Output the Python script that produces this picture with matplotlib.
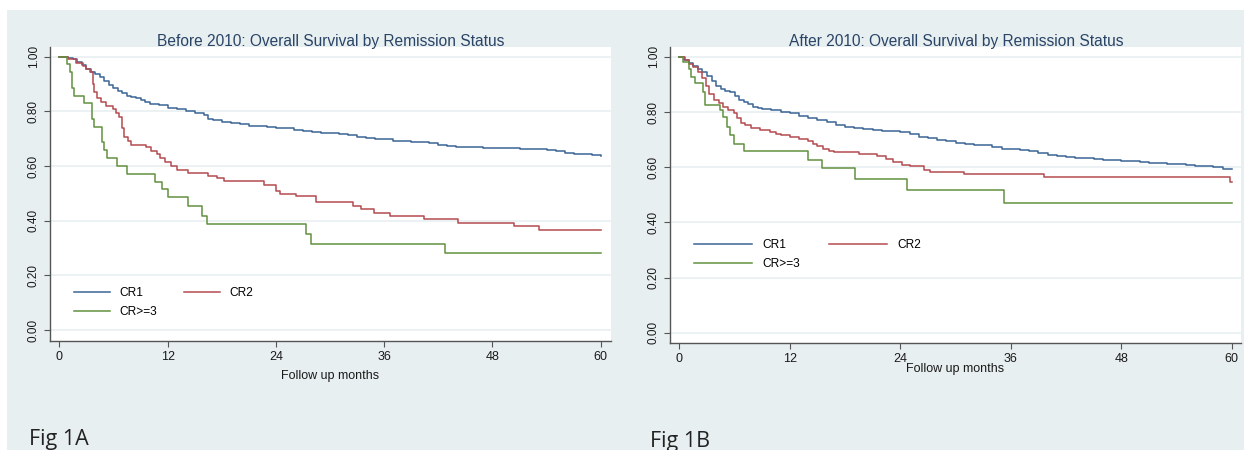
"""
Kaplan-Meier overall survival by remission status, before and after 2010.
"""
import matplotlib
matplotlib.use('Agg')
import matplotlib.pyplot as plt
from matplotlib.patches import Rectangle

plt.rcParams['font.family'] = ['Liberation Sans', 'DejaVu Sans']

# Before 2010 (Fig 1A): step points (month, survival)
before_cr1_t = [0, 0.5, 1, 1.5, 2, 2.5, 3, 3.5, 4, 4.5, 5, 5.5, 6, 6.5, 7, 7.5, 8, 8.5, 9,
                9.5, 10, 11, 12, 13, 14, 15, 16, 16.5, 17, 18, 19, 20, 21, 22, 23, 24, 25,
                26, 27, 28, 29, 30, 31, 32, 33, 34, 35, 36, 37, 38, 39, 40, 41, 42, 43, 44,
                45, 46, 47, 48, 49, 50, 51, 52, 53, 54, 55, 56, 57, 58, 59, 60]
before_cr1_s = [1.0, 1.0, 0.995, 0.99, 0.98, 0.97, 0.955, 0.945, 0.935, 0.925, 0.912, 0.897,
                0.885, 0.875, 0.865, 0.857, 0.852, 0.847, 0.84, 0.833, 0.828, 0.822, 0.813,
                0.808, 0.80, 0.793, 0.785, 0.772, 0.767, 0.762, 0.756, 0.752, 0.747, 0.745,
                0.742, 0.74, 0.737, 0.733, 0.728, 0.725, 0.722, 0.72, 0.717, 0.712, 0.707,
                0.703, 0.70, 0.697, 0.693, 0.69, 0.688, 0.686, 0.683, 0.675, 0.672, 0.671,
                0.670, 0.669, 0.667, 0.665, 0.665, 0.664, 0.663, 0.663, 0.662, 0.658, 0.653,
                0.648, 0.645, 0.642, 0.64, 0.638]

before_cr2_t = [0, 1.0, 1.8, 2.6, 3.0, 3.4, 3.7, 3.9, 4.2, 4.6, 5.2, 5.9, 6.3, 6.6, 6.9, 7.2,
                7.6, 8.0, 9.6, 10.2, 10.8, 11.2, 11.7, 12.4, 13.0, 14.3, 16.5, 17.5, 18.2,
                22.7, 24.0, 24.5, 26.2, 28.5, 32.6, 33.4, 34.9, 36.7, 40.4, 44.2, 50.4, 53.2,
                60]
before_cr2_s = [1.0, 0.99, 0.975, 0.965, 0.955, 0.945, 0.9, 0.87, 0.85, 0.835, 0.82, 0.81,
                0.795, 0.78, 0.74, 0.705, 0.69, 0.678, 0.668, 0.655, 0.645, 0.63, 0.615, 0.60,
                0.585, 0.575, 0.565, 0.555, 0.545, 0.53, 0.51, 0.497, 0.49, 0.47, 0.455, 0.443,
                0.428, 0.418, 0.405, 0.392, 0.379, 0.365, 0.365]

before_cr3_t = [0, 0.8, 1.2, 1.4, 1.6, 2.7, 3.6, 3.9, 4.7, 4.9, 5.3, 6.4, 7.5, 10.6, 11.4,
                12.1, 14.3, 15.8, 16.4, 27.3, 27.9, 42.7, 60]
before_cr3_s = [1.0, 0.972, 0.943, 0.886, 0.857, 0.829, 0.771, 0.743, 0.686, 0.657, 0.629,
                0.600, 0.571, 0.543, 0.514, 0.486, 0.452, 0.418, 0.386, 0.351, 0.316, 0.28,
                0.28]

# After 2010 (Fig 1B)
after_cr1_t = [0, 0.5, 1, 1.5, 2, 2.5, 3, 3.5, 4, 4.5, 5, 5.5, 6, 6.5, 7, 7.5, 8, 8.5, 9,
               10, 11, 12, 13, 14, 15, 16, 17, 18, 19, 20, 21, 22, 23, 24, 25, 26, 27, 28,
               29, 30, 31, 32, 33, 34, 35, 36, 37, 38, 39, 40, 41, 42, 43, 44, 45, 46, 47,
               48, 49, 50, 51, 52, 53, 54, 55, 56, 57, 58, 59, 60]
after_cr1_s = [1.0, 0.99, 0.978, 0.968, 0.958, 0.945, 0.93, 0.912, 0.895, 0.885, 0.878,
               0.872, 0.858, 0.845, 0.835, 0.828, 0.82, 0.815, 0.811, 0.806, 0.801, 0.795,
               0.786, 0.778, 0.772, 0.763, 0.753, 0.746, 0.742, 0.739, 0.736, 0.733, 0.73,
               0.727, 0.72, 0.71, 0.705, 0.70, 0.695, 0.688, 0.683, 0.681, 0.68, 0.675, 0.668,
               0.665, 0.662, 0.658, 0.652, 0.645, 0.64, 0.638, 0.635, 0.632, 0.630, 0.628,
               0.625, 0.623, 0.621, 0.618, 0.617, 0.615, 0.613, 0.611, 0.608, 0.605, 0.604,
               0.601, 0.595, 0.594]

after_cr2_t = [0, 0.6, 1.0, 1.5, 2.0, 2.5, 2.9, 3.2, 3.8, 4.3, 4.8, 5.3, 5.9, 6.3, 6.7, 7.1,
               7.8, 8.8, 9.8, 10.5, 11.0, 12.0, 13.0, 14.0, 14.5, 15.0, 15.6, 16.3, 16.8,
               19.5, 21.5, 22.5, 23.2, 24.2, 25.0, 26.6, 27.2, 30.9, 39.6, 59.8, 60]
after_cr2_s = [1.0, 0.988, 0.976, 0.962, 0.945, 0.925, 0.895, 0.865, 0.845, 0.832, 0.82,
               0.807, 0.795, 0.78, 0.76, 0.752, 0.742, 0.735, 0.728, 0.722, 0.716, 0.71,
               0.704, 0.695, 0.686, 0.676, 0.668, 0.66, 0.654, 0.648, 0.64, 0.63, 0.618, 0.61,
               0.603, 0.59, 0.583, 0.575, 0.563, 0.548, 0.548]

after_cr3_t = [0, 0.4, 1.0, 1.3, 1.7, 2.6, 2.8, 4.4, 4.8, 5.2, 5.5, 5.9, 7.0, 14.0, 15.5,
               19.1, 24.7, 35.3, 60]
after_cr3_s = [1.0, 0.982, 0.958, 0.928, 0.904, 0.873, 0.825, 0.807, 0.783, 0.746, 0.716,
               0.686, 0.658, 0.626, 0.596, 0.559, 0.517, 0.471, 0.471]

labels = ['CR1', 'CR2', 'CR>=3']
colors = ['#3a6596', '#b44a50', '#62913f']
x_ticks = [0, 12, 24, 36, 48, 60]
y_ticks = [0.0, 0.2, 0.4, 0.6, 0.8, 1.0]

W, H = 1244, 450
fig = plt.figure(figsize=(W / 100, H / 100), dpi=100, facecolor='white')
fig.patches.append(Rectangle((7 / W, 0), 1 - 7 / W, 1 - 10 / H, transform=fig.transFigure,
                             facecolor='#e8eff1', edgecolor='none', zorder=-10))


def px_axes(x0, x1, y_top, y_bot):
    return fig.add_axes([x0 / W, 1 - y_bot / H, (x1 - x0) / W, (y_bot - y_top) / H])


def setup(ax, series, title, xlim, ylim, title_x, leg_anchor, handlelen, colspace, labelpad):
    lines = []
    for (t, s), c, lab in zip(series, colors, labels):
        ln, = ax.plot(t, s, drawstyle='steps-post', color=c, lw=1.1, label=lab)
        lines.append(ln)
    ax.set_xlim(*xlim)
    ax.set_ylim(*ylim)
    ax.set_xticks(x_ticks)
    ax.set_yticks(y_ticks)
    ax.set_yticklabels([f'{v:.2f}' for v in y_ticks], rotation=90, va='center')
    ax.grid(axis='y', color='#e9f0f2', lw=1.2)
    ax.set_axisbelow(True)
    for side in ['top', 'right']:
        ax.spines[side].set_visible(False)
    for side in ['left', 'bottom']:
        ax.spines[side].set_color('#555555')
        ax.spines[side].set_linewidth(1.0)
    ax.tick_params(axis='x', colors='#555555', length=4, labelsize=9, labelcolor='#1a1a1a')
    ax.tick_params(axis='y', colors='#555555', length=4, labelsize=8.5, labelcolor='#1a1a1a')
    ax.set_xlabel('Follow up months', fontsize=9, color='#1a1a1a', labelpad=labelpad)
    fig.text(title_x / W, 1 - 46 / H, title, ha='center', va='baseline',
             fontsize=11.2, color='#2a4466')
    # column-wise fill: CR1 / CR>=3 in the first column, CR2 in the second
    order = [0, 2, 1]
    leg = ax.legend([lines[i] for i in order], [labels[i] for i in order],
                    loc='center left', bbox_to_anchor=leg_anchor, ncol=2, fontsize=8.6,
                    handlelength=handlelen, handletextpad=0.85, columnspacing=colspace,
                    labelspacing=0.6, borderpad=0.4, borderaxespad=0, frameon=True,
                    fancybox=False)
    leg.get_frame().set_facecolor('white')
    leg.get_frame().set_edgecolor('none')
    leg.get_frame().set_alpha(1)


ax1 = px_axes(50, 611, 47, 341)
setup(ax1,
      [(before_cr1_t, before_cr1_s), (before_cr2_t, before_cr2_s), (before_cr3_t, before_cr3_s)],
      'Before 2010: Overall Survival by Remission Status',
      (-1.03, 61.14), (-0.040, 1.035), 330.5, (0.034, 0.131), 3.0, 2.2, 5)

ax2 = px_axes(670, 1241, 47, 343)
setup(ax2,
      [(after_cr1_t, after_cr1_s), (after_cr2_t, after_cr2_s), (after_cr3_t, after_cr3_s)],
      'After 2010: Overall Survival by Remission Status',
      (-1.01, 61.0), (-0.037, 1.036), 956, (0.033, 0.299), 4.9, 2.4, -2)

fig.text(29 / W, 1 - 445 / H, 'Fig 1A', ha='left', va='baseline', fontsize=15.5,
         family=['Open Sans', 'DejaVu Sans'], color='#222222')
fig.text(650 / W, 1 - 447 / H, 'Fig 1B', ha='left', va='baseline', fontsize=15.5,
         family=['Open Sans', 'DejaVu Sans'], color='#222222')

fig.savefig('out.png', dpi=100, facecolor=fig.get_facecolor())
